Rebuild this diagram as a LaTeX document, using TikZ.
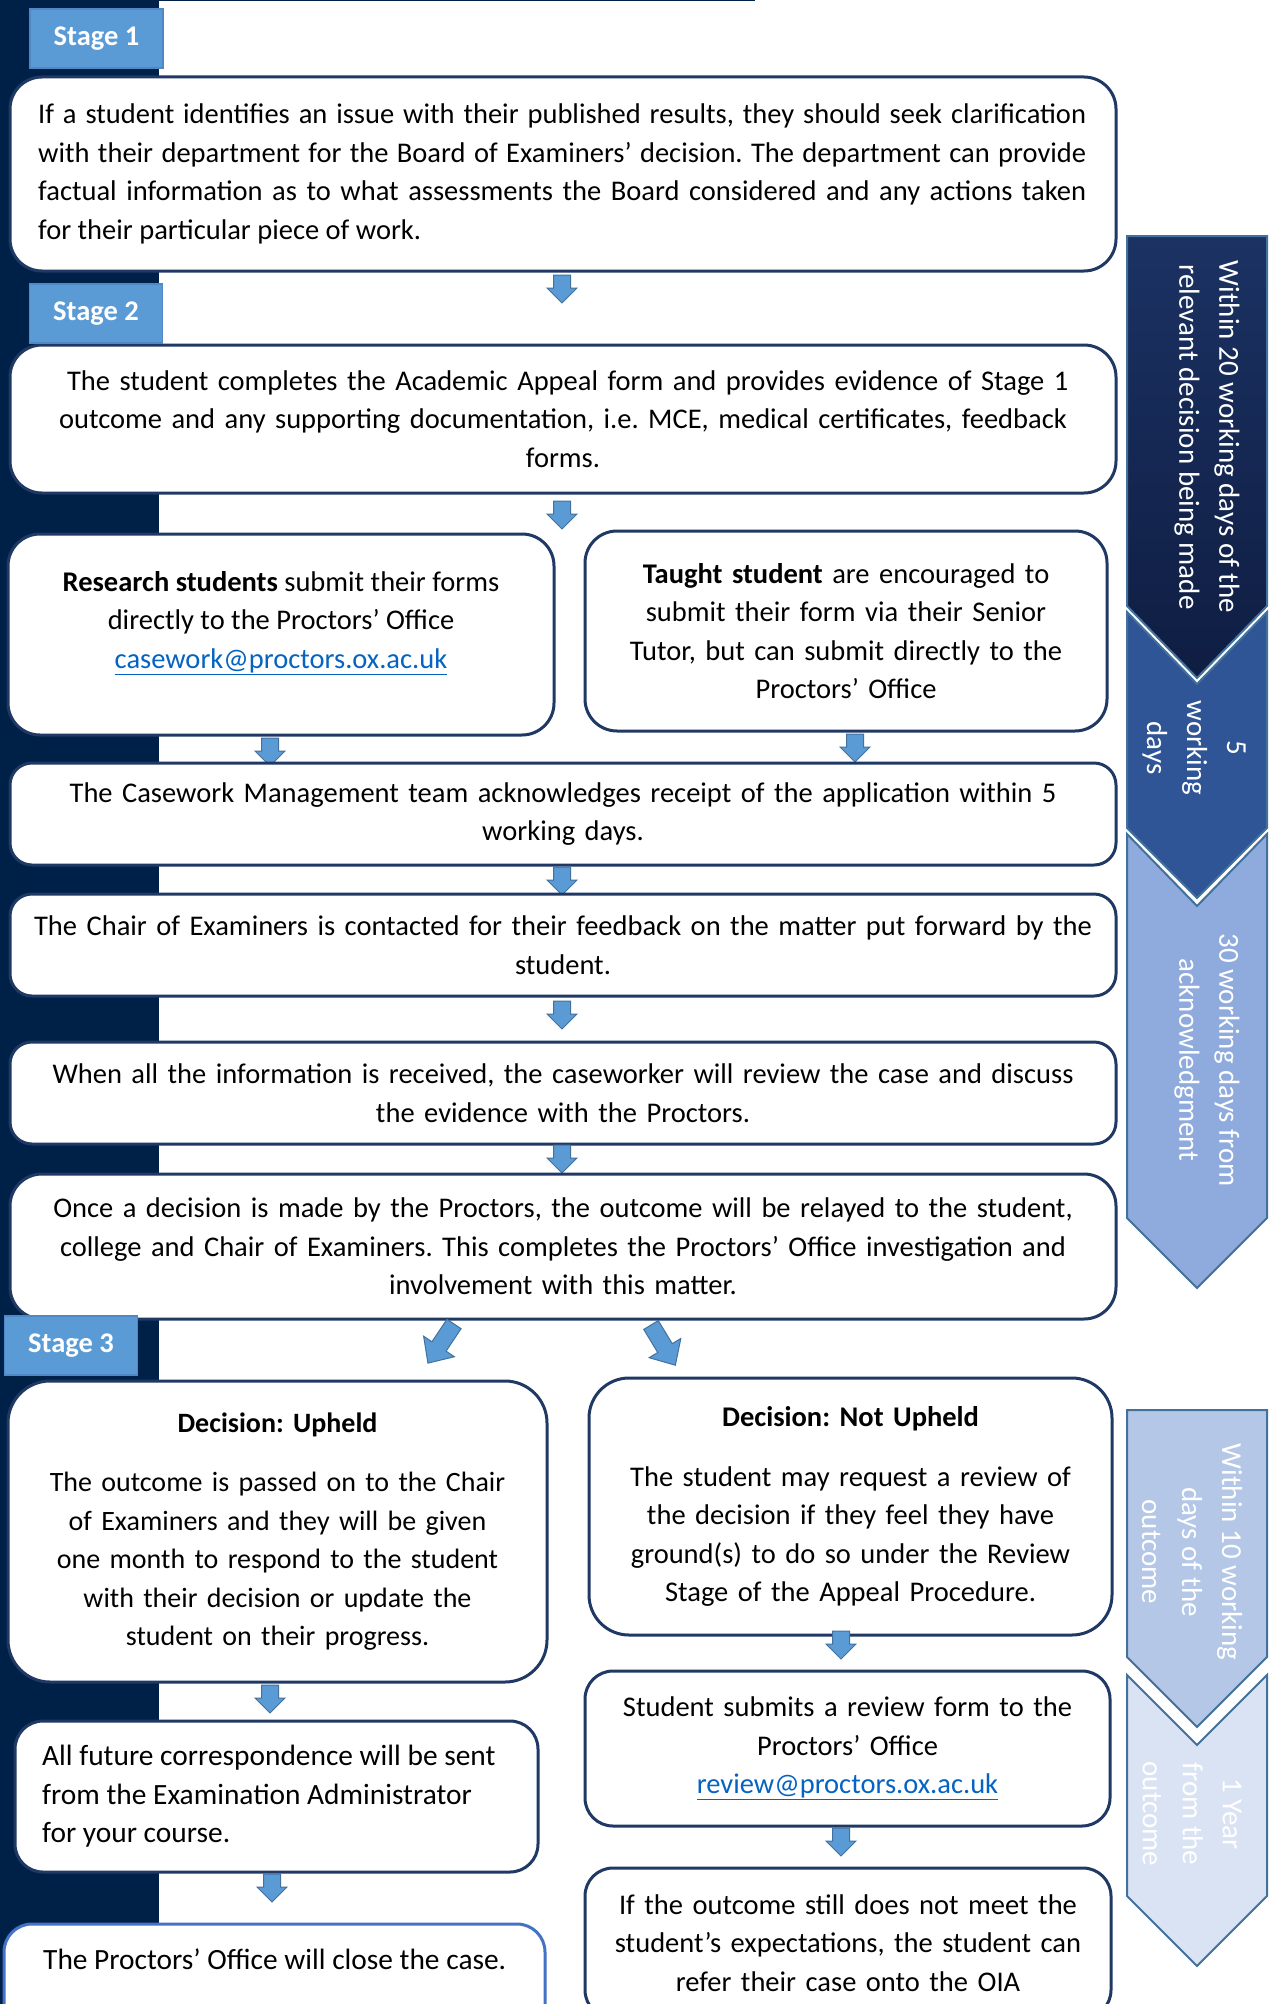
\documentclass[tikz,border=0pt]{standalone}
\usepackage{fontspec}
\setmainfont{Carlito}
\frenchspacing
\definecolor{oxnavy}{HTML}{002147}
\definecolor{boxline}{HTML}{1F3864}
\definecolor{boxlineb}{HTML}{4472C4}
\definecolor{stagefill}{HTML}{5B9BD5}
\definecolor{stageline}{HTML}{4F87C7}
\definecolor{arrfill}{HTML}{5B9BD5}
\definecolor{arrline}{HTML}{41719C}
\definecolor{chevline}{HTML}{41719C}
\definecolor{chevA}{HTML}{1B3263}
\definecolor{chevAb}{HTML}{0F1D42}
\definecolor{chevB}{HTML}{2F5597}
\definecolor{chevC}{HTML}{8FAADC}
\definecolor{chevD}{HTML}{B4C7E7}
\definecolor{chevE}{HTML}{DAE3F3}
\definecolor{linkblue}{HTML}{0563C1}
\newcommand\bodyfont{\fontsize{28.5}{38.5}\selectfont}
\newcommand\bigbodyfont{\fontsize{29.4}{38.5}\selectfont}
\newcommand\smallbodyfont{\fontsize{28}{38.5}\selectfont}
\newcommand\chevfont{\fontsize{29}{40}\selectfont}
\newcommand\maillink[1]{\textcolor{linkblue}{\underline{#1}}}
\newcommand\jline[1]{\makebox[1048pt][s]{#1}}
\newcommand\dnarr[2]{\draw[blockarrow, shift={(#1,#2)}] (-8.5,0) -- (8.5,0) -- (8.5,13) -- (15,13) -- (0,28) -- (-15,13) -- (-8.5,13) -- cycle;}
\newcommand\dgarr[3]{\draw[blockarrow, shift={(#1,#2)}, rotate=#3] (-8.5,0) -- (8.5,0) -- (8.5,27) -- (18.5,27) -- (0,47) -- (-18.5,27) -- (-8.5,27) -- cycle;}
\tikzset{
  box/.style={draw=boxline, line width=3pt, rounded corners=32pt, fill=white, inner sep=0pt, font=\bodyfont},
  stagebox/.style={draw=stageline, line width=1.5pt, fill=stagefill, text=white, font=\bodyfont\bfseries, inner sep=0pt, minimum width=133pt, minimum height=59pt},
  blockarrow/.style={fill=arrfill, draw=arrline, line width=1pt},
  chev/.style={draw=chevline, line width=2pt},
  chevtext/.style={text=white, font=\chevfont, align=center, rotate=-90, inner sep=0pt},
  plain/.style={font=\bodyfont, inner sep=0pt, align=center},
  plainleft/.style={font=\bodyfont, inner sep=0pt, align=left, anchor=west},
}
\begin{document}
\begin{tikzpicture}[x=1pt,y=-1pt]
\useasboundingbox (0,0) rectangle (1272,2004);
\clip (0,0) rectangle (1272,2004);
\fill[white] (0,0) rectangle (1272,2004);
% left navy band and top rule
\fill[oxnavy] (0,0) rectangle (159,2004);
\draw[oxnavy, line width=3pt] (159,0) -- (755,0);

% ---------- chevrons ----------
\path[chev, top color=chevA, bottom color=chevAb] (1127,236) -- (1267,236) -- (1267,606) -- (1197,678) -- (1127,606) -- cycle;
\node[chevtext] (c1) at (1207,437) {Within 20 working days of the\\relevant decision being made};
\path[chev, fill=chevB] (1127,612) -- (1197,684) -- (1267,612) -- (1267,828) -- (1197,898) -- (1127,828) -- cycle;
\node[chevtext] (c2) at (1194,748) {5\\working\\days};
\path[chev, fill=chevC] (1127,834) -- (1197,906) -- (1267,834) -- (1267,1218) -- (1197,1288) -- (1127,1218) -- cycle;
\node[chevtext] (c3) at (1207,1060) {30 working days from\\acknowledgment};
\path[chev, fill=chevD] (1127,1410) -- (1267,1410) -- (1267,1657) -- (1197,1727) -- (1127,1657) -- cycle;
\node[chevtext] (c4) at (1192,1552) {Within 10 working\\days of the\\outcome};
\path[chev, fill=chevE] (1127,1675) -- (1197,1745) -- (1267,1675) -- (1267,1896) -- (1197,1966) -- (1127,1896) -- cycle;
\node[chevtext] (c5) at (1192,1814) {1 Year\\from the\\outcome};

% ---------- stage 1 ----------
\node[box, minimum width=1106pt, minimum height=194pt] (b1) at (563,174) {};
\node[plainleft] (t1) at (38,174)
 {\jline{If a student identifies an issue with their published results, they should seek clarification}\\\jline{with their department for the Board of Examiners’ decision. The department can provide}\\\jline{factual information as to what assessments the Board considered and any actions taken}\\for their particular piece of work.};
\node[stagebox] (s1) at (96.5,38.5) {Stage 1};
\dnarr{562}{275}

% ---------- stage 2 ----------
\node[box, minimum width=1106pt, minimum height=148pt, text width=1100pt, align=center] (b2) at (563,419)
 {\ The student completes the Academic Appeal form and provides evidence of Stage 1\\outcome and any supporting documentation, i.e. MCE, medical certificates, feedback\\forms.};
\node[stagebox] (s2) at (96,313.5) {Stage 2};
\dnarr{562}{501}

\node[box, minimum width=546pt, minimum height=201pt] (b3a) at (281,634.5) {};
\node[plain] (t3a) at (281,623) {\textbf{Research students} submit their forms\\directly to the Proctors’ Office\\\maillink{casework@proctors.ox.ac.uk}};
\node[box, minimum width=522pt, minimum height=200pt, text width=510pt, align=center] (b3b) at (846,631)
 {\textbf{Taught student} are encouraged to\\submit their form via their Senior\\Tutor, but can submit directly to the\\Proctors’ Office};
\dnarr{270}{738}
\dnarr{855}{734}

\node[box, rounded corners=22pt, minimum width=1106pt, minimum height=102pt, text width=1100pt, align=center] (b4) at (563,814)
 {The Casework Management team acknowledges receipt of the application within 5\\working days.};
\dnarr{562}{867}
\node[box, rounded corners=22pt, minimum width=1106pt, minimum height=102pt, text width=1100pt, align=center] (b5) at (563,945)
 {The Chair of Examiners is contacted for their feedback on the matter put forward by the\\student.};
\dnarr{562}{1001}
\node[box, rounded corners=22pt, minimum width=1106pt, minimum height=102pt, text width=1100pt, align=center] (b6) at (563,1093)
 {When all the information is received, the caseworker will review the case and discuss\\the evidence with the Proctors.};
\dnarr{562}{1145}
\node[box, minimum width=1106pt, minimum height=145pt, text width=1100pt, align=center] (b7) at (563,1246.5)
 {Once a decision is made by the Proctors, the outcome will be relayed to the student,\\college and Chair of Examiners. This completes the Proctors’ Office investigation and\\involvement with this matter.};

% ---------- stage 3 ----------
\node[stagebox] (s3) at (71,1345.5) {Stage 3};
\dgarr{454}{1324}{-33.7}
\dgarr{651}{1325}{31.2}

\node[box, font=\smallbodyfont, rounded corners=42pt, minimum width=539pt, minimum height=301pt, text width=530pt, align=center] (b8a) at (277.5,1531.5)
 {\textbf{Decision: Upheld}\\[21pt]The outcome is passed on to the Chair\\of Examiners and they will be given\\one month to respond to the student\\with their decision or update the\\student on their progress.};
\node[box, rounded corners=40pt, minimum width=523pt, minimum height=257pt, text width=515pt, align=center] (b8b) at (850.5,1506.5)
 {\textbf{Decision: Not Upheld}\\[21pt]The student may request a review of\\the decision if they feel they have\\ground(s) to do so under the Review\\Stage of the Appeal Procedure.};
\dnarr{270}{1685}
\dnarr{841}{1631}

\node[box, rounded corners=28pt, minimum width=523pt, minimum height=151pt] (b9a) at (276.5,1796.5) {};
\node[plainleft, font=\bigbodyfont] (t9a) at (42,1796.5)
 {All future correspondence will be sent\\from the Examination Administrator\\for your course.};
\node[box, rounded corners=28pt, minimum width=525pt, minimum height=155pt, text width=515pt, align=center] (b9b) at (847.5,1748.5)
 {Student submits a review form to the\\Proctors’ Office\\\maillink{review@proctors.ox.ac.uk}};
\dnarr{272}{1874}
\dnarr{841}{1828}

\node[box, draw=boxlineb, rounded corners=28pt, minimum width=541pt, minimum height=120pt] (b10a) at (274.5,1984) {};
\node[plainleft, font=\bigbodyfont] (t10a) at (43,1959) {The Proctors’ Office will close the case.};
\node[box, rounded corners=28pt, minimum width=526pt, minimum height=150pt, text width=515pt, align=center] (b10b) at (848,1943)
 {If the outcome still does not meet the\\student’s expectations, the student can\\refer their case onto the OIA};
\end{tikzpicture}
\end{document}
